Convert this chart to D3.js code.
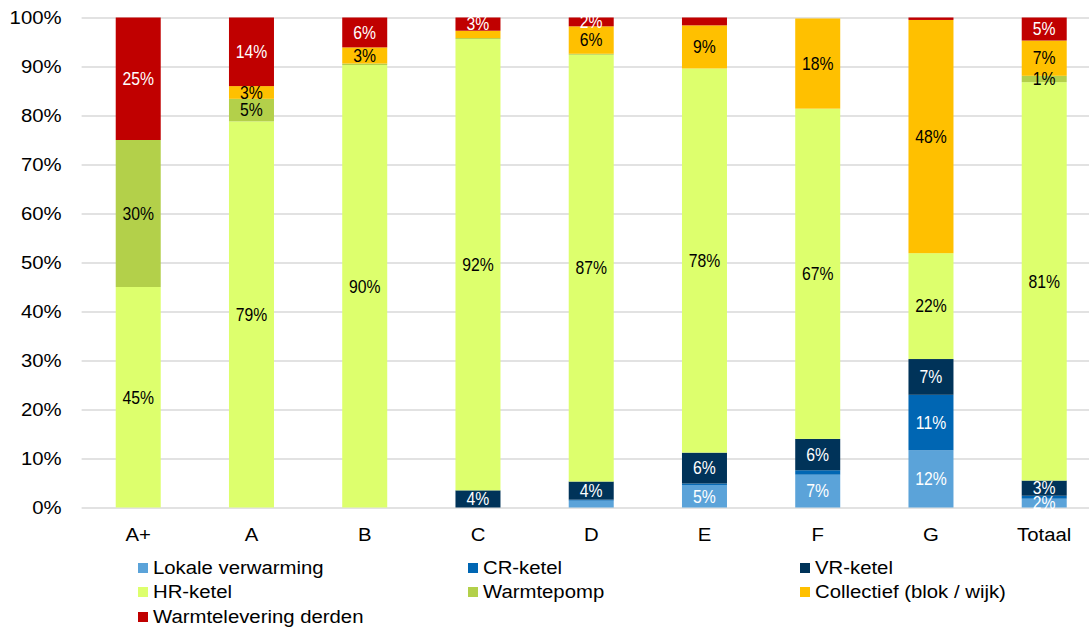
<!DOCTYPE html>
<html>
<head>
<meta charset="utf-8">
<script src="https://cdn.jsdelivr.net/npm/d3@7/dist/d3.min.js"></script>
<style>
  html, body { margin: 0; padding: 0; background: #fff; }
  svg { display: block; }
  text { font-family: "Liberation Sans", Arial, sans-serif; }
</style>
</head>
<body>
<svg id="chart" width="1089" height="628"></svg>
<script>
// ---- data ----
const categories = ["A+", "A", "B", "C", "D", "E", "F", "G", "Totaal"];
const seriesNames = ["Lokale verwarming", "CR-ketel", "VR-ketel", "HR-ketel", "Warmtepomp", "Collectief (blok / wijk)", "Warmtelevering derden"];
const lokale       = [0,    0,    0,    0,    1.4,  4.6,  6.7,  11.7, 1.8];
const crKetel      = [0,    0,    0,    0,    0.2,  0.3,  0.9,  11.3, 0.6];
const vrKetel      = [0,    0,    0,    3.5,  3.7,  6.3,  6.4,  7.3,  3.1];
const hrKetel      = [45,   78.8, 90.3, 92.1, 87.1, 78.4, 67.4, 21.6, 81.3];
const warmtepomp   = [30,   4.6,  0.3,  0.2,  0.2,  0,    0,    0,    1.3];
const collectief   = [0,    2.6,  3.3,  1.5,  5.6,  8.8,  18.4, 47.6, 7.2];
const warmtelev    = [25,   14.0, 6.1,  2.7,  1.8,  1.6,  0,    0.5,  4.7];
const seriesValues = [lokale, crKetel, vrKetel, hrKetel, warmtepomp, collectief, warmtelev];
const yTicks = [0, 10, 20, 30, 40, 50, 60, 70, 80, 90, 100];
// labels omitted in the original chart
const hiddenLabels = ["D|Lokale verwarming", "C|Collectief (blok / wijk)", "E|Warmtelevering derden"];

// ---- styles ----
const colors = ["#5ba3d9", "#0066b3", "#003359", "#ddff6d", "#b3d04a", "#ffc000", "#c00000"];
const labelColors = ["#fff", "#fff", "#fff", "#000", "#000", "#000", "#fff"];
const SX = 1.13;     // horizontal text stretch of the original
const LSX = 0.9;     // data labels are condensed

const svg = d3.select("#chart");
const plotLeft = 81.6, plotRight = 1100.85, plotTop = 17.5, plotBottom = 507.5;

const rows = categories.map((c, i) => {
  const r = { cat: c };
  seriesNames.forEach((s, j) => r[s] = seriesValues[j][i]);
  return r;
});
const stacked = d3.stack().keys(seriesNames)(rows);

const x = d3.scaleBand().domain(categories).range([plotLeft, plotRight])
  .paddingInner(0.6026).paddingOuter(0.3013);
const y = d3.scaleLinear().domain([0, 100]).range([plotBottom, plotTop]);

// gridlines + y axis
const yAxis = d3.axisLeft(y).tickValues(yTicks).tickSize(-(plotRight - plotLeft)).tickFormat(d => d + "%");
const gy = svg.append("g").attr("transform", `translate(${plotLeft},0)`).call(yAxis);
gy.select(".domain").remove();
gy.selectAll(".tick line").attr("stroke", "#d9d9d9").attr("stroke-width", 1.5);
gy.selectAll(".tick text")
  .attr("x", 0).attr("dy", "0.35em")
  .attr("transform", `translate(-20,0) scale(${SX},1)`)
  .attr("fill", "#000").attr("font-size", 18)
  .style("font-family", "'Liberation Sans', Arial, sans-serif");

// bars
const layers = svg.append("g").selectAll("g").data(stacked).join("g")
  .attr("fill", (d, i) => colors[i]);
layers.selectAll("rect").data(d => d).join("rect")
  .attr("x", d => x(d.data.cat))
  .attr("width", x.bandwidth())
  .attr("y", d => y(d[1]))
  .attr("height", d => Math.max(0, y(d[0]) - y(d[1])));

// data labels
const lab = svg.append("g");
stacked.forEach((layer, si) => {
  layer.forEach(d => {
    const v = d[1] - d[0];
    if (v < 1) return;
    if (hiddenLabels.includes(d.data.cat + "|" + layer.key)) return;
    const cx = x(d.data.cat) + x.bandwidth() / 2;
    const cy = (y(d[0]) + y(d[1])) / 2;
    lab.append("text")
      .attr("transform", `translate(${cx},${cy}) scale(${LSX},1)`)
      .attr("text-anchor", "middle")
      .attr("dy", "0.36em")
      .attr("font-size", 17.5)
      .attr("fill", labelColors[si])
      .text(Math.round(v) + "%");
  });
});

// x axis labels
const xAxis = d3.axisBottom(x).tickSize(0).tickPadding(0);
const gx = svg.append("g").attr("transform", `translate(0,${plotBottom})`).call(xAxis);
gx.select(".domain").remove();
gx.selectAll(".tick text")
  .attr("y", 0).attr("dy", 0)
  .attr("transform", `translate(0,33) scale(${SX},1)`)
  .attr("fill", "#000").attr("font-size", 18)
  .style("font-family", "'Liberation Sans', Arial, sans-serif");

// legend
const legendPos = [
  [138, 568], [468, 568], [800, 568],
  [138, 592], [468, 592], [800, 592],
  [138, 617]
];
const leg = svg.append("g");
seriesNames.forEach((s, i) => {
  const [lx, ly] = legendPos[i];
  const g = leg.append("g").attr("transform", `translate(${lx},${ly})`);
  g.append("rect").attr("x", 0).attr("y", -5).attr("width", 10).attr("height", 10).attr("fill", colors[i]);
  g.append("text").attr("transform", `translate(15,0) scale(${SX},1)`)
    .attr("dy", "0.36em").attr("font-size", 18).attr("fill", "#000").text(s);
});
</script>
</body>
</html>
